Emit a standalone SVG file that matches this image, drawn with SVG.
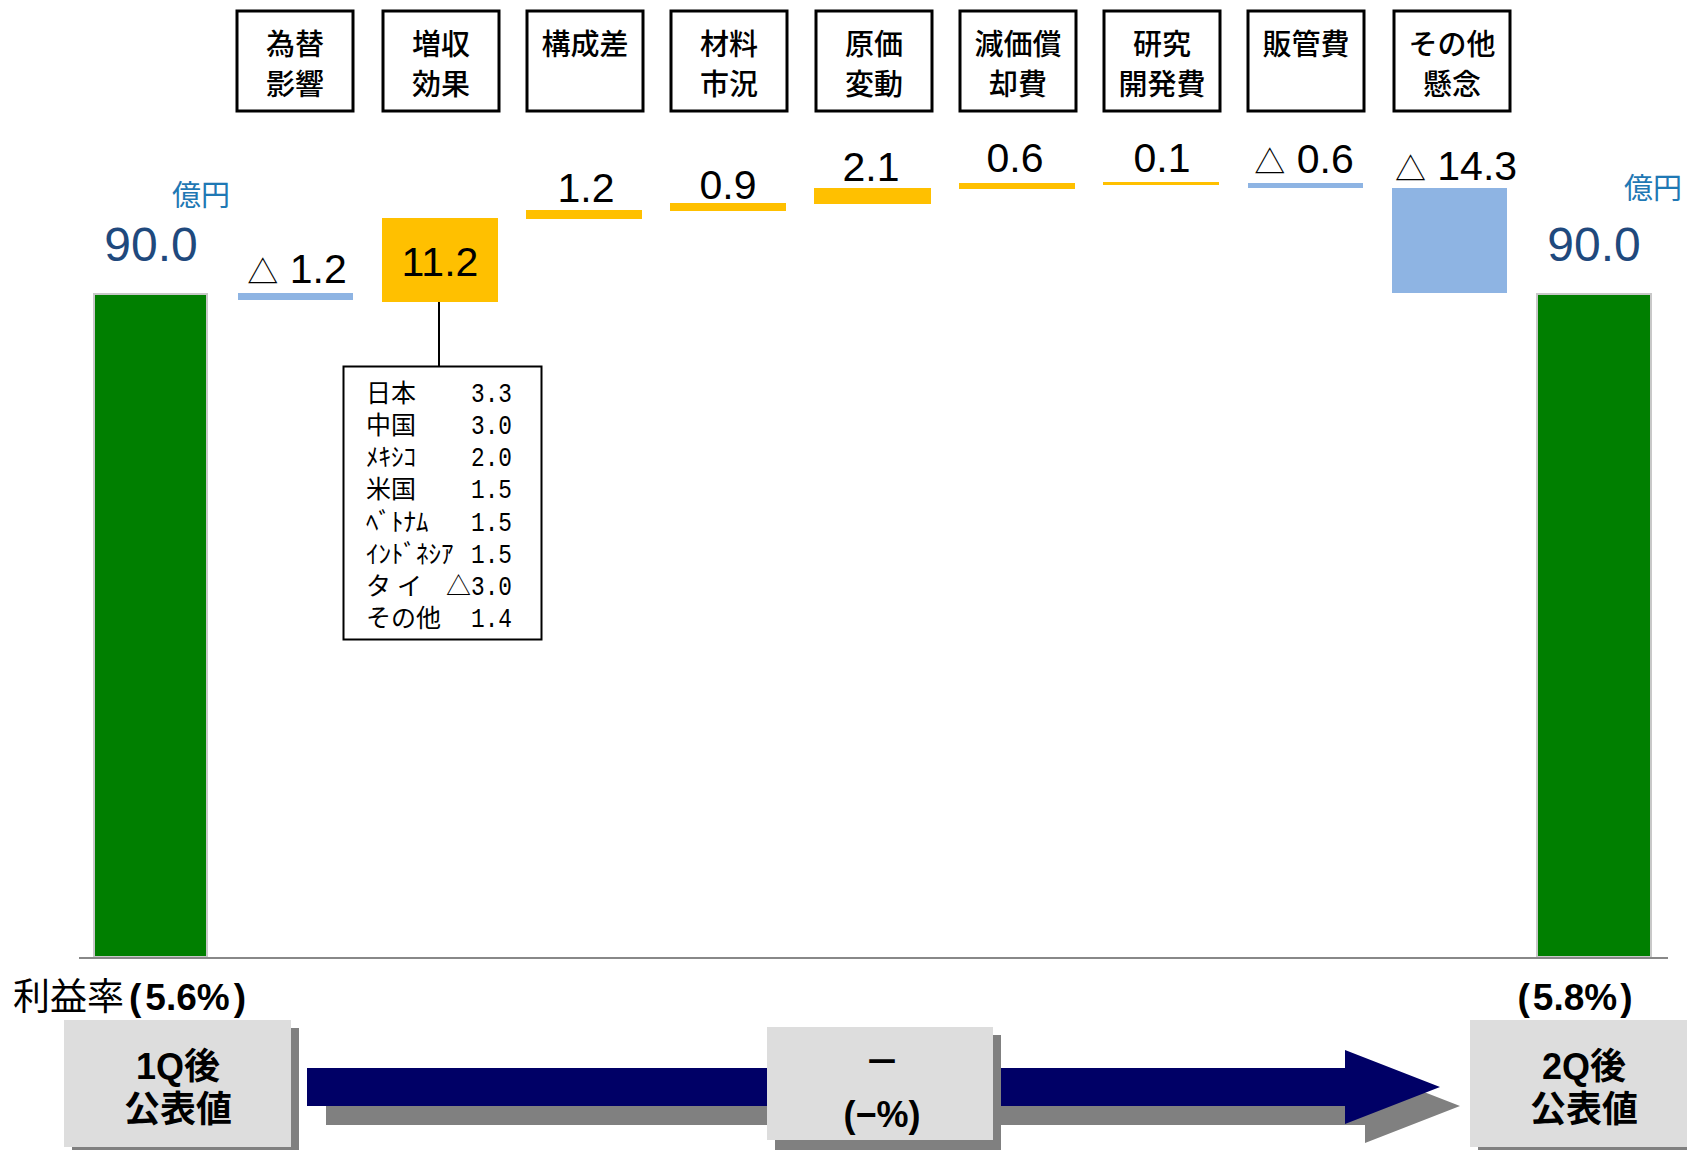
<svg xmlns="http://www.w3.org/2000/svg" width="1687" height="1150" viewBox="0 0 1687 1150">
<style>
.hbox{fill:#fff;stroke:#000;stroke-width:3}
.htxt{font-family:"Noto Sans CJK JP",sans-serif;font-size:29px;font-weight:500;text-anchor:middle;fill:#000}
.val{font-family:"Liberation Sans","Noto Sans CJK JP",sans-serif;font-size:41px;text-anchor:middle;fill:#000}
.tri{font-family:"Noto Sans CJK JP",sans-serif;font-size:31px}
.big{font-family:"Liberation Sans",sans-serif;font-size:48px;text-anchor:middle;fill:#1F497D}
.unit{font-family:"Noto Sans CJK JP",sans-serif;font-size:29px;fill:#1F78B4;text-anchor:middle}
.org{fill:#FFC000}
.blu{fill:#8EB4E3}
.grn{fill:#007F00;stroke:#C8C8C8;stroke-width:2}
.tbl{font-family:"Noto Sans CJK JP",sans-serif;font-size:25px;fill:#000}
.num{font-family:"Liberation Mono","Noto Sans CJK JP",monospace;font-size:28px;fill:#000}
.bt{font-family:"Liberation Sans","Noto Sans CJK JP",sans-serif;font-weight:bold;font-size:36px;text-anchor:middle;fill:#000}
.pbox{fill:#DDDDDD}
.shd{fill:#808080}
</style>

<!-- header boxes -->
<g id="h1"><rect class="hbox" x="237" y="11" width="116" height="100"/><text class="htxt" x="295" y="55">為替</text><text class="htxt" x="295" y="95">影響</text></g>
<g id="h2"><rect class="hbox" x="383" y="11" width="116" height="100"/><text class="htxt" x="441" y="55">増収</text><text class="htxt" x="441" y="95">効果</text></g>
<g id="h3"><rect class="hbox" x="527" y="11" width="116" height="100"/><text class="htxt" x="585" y="55">構成差</text></g>
<g id="h4"><rect class="hbox" x="671" y="11" width="116" height="100"/><text class="htxt" x="729" y="55">材料</text><text class="htxt" x="729" y="95">市況</text></g>
<g id="h5"><rect class="hbox" x="816" y="11" width="116" height="100"/><text class="htxt" x="874" y="55">原価</text><text class="htxt" x="874" y="95">変動</text></g>
<g id="h6"><rect class="hbox" x="960" y="11" width="116" height="100"/><text class="htxt" x="1018" y="55">減価償</text><text class="htxt" x="1018" y="95">却費</text></g>
<g id="h7"><rect class="hbox" x="1104" y="11" width="116" height="100"/><text class="htxt" x="1162" y="55">研究</text><text class="htxt" x="1162" y="95">開発費</text></g>
<g id="h8"><rect class="hbox" x="1248" y="11" width="116" height="100"/><text class="htxt" x="1306" y="55">販管費</text></g>
<g id="h9"><rect class="hbox" x="1394" y="11" width="116" height="100"/><text class="htxt" x="1452" y="55">その他</text><text class="htxt" x="1452" y="95">懸念</text></g>

<!-- start bar -->
<g id="start">
<rect class="grn" x="94" y="294" width="113" height="663"/>
<text class="unit" x="201" y="206">億円</text>
<text class="big" x="151" y="261">90.0</text>
</g>

<!-- steps -->
<g id="s1"><rect class="blu" x="238" y="293" width="115" height="7"/><text class="val" x="297" y="283"><tspan class="tri">△</tspan> 1.2</text></g>
<g id="s2"><rect class="org" x="382" y="218" width="116" height="84"/><text class="val" x="440" y="276">11.2</text></g>
<g id="s3"><rect class="org" x="526" y="210" width="116" height="9"/><text class="val" x="586" y="202">1.2</text></g>
<g id="s4"><rect class="org" x="670" y="203" width="116" height="8"/><text class="val" x="728" y="199">0.9</text></g>
<g id="s5"><rect class="org" x="814" y="188" width="117" height="16"/><text class="val" x="871" y="181">2.1</text></g>
<g id="s6"><rect class="org" x="959" y="183" width="116" height="6"/><text class="val" x="1015" y="172">0.6</text></g>
<g id="s7"><rect class="org" x="1103" y="182" width="116" height="3"/><text class="val" x="1162" y="172">0.1</text></g>
<g id="s8"><rect class="blu" x="1248" y="183" width="115" height="5"/><text class="val" x="1304" y="173"><tspan class="tri">△</tspan> 0.6</text></g>
<g id="s9"><rect class="blu" x="1392" y="188" width="115" height="105"/><text class="val" x="1456" y="180"><tspan class="tri">△</tspan> 14.3</text></g>

<!-- end bar -->
<g id="end">
<rect class="grn" x="1537" y="294" width="114" height="663"/>
<text class="unit" x="1653" y="199">億円</text>
<text class="big" x="1594" y="261">90.0</text>
</g>

<!-- baseline -->
<g id="axis"><line x1="79" y1="958" x2="1668" y2="958" stroke="#888" stroke-width="2"/></g>

<!-- breakdown table -->
<g id="breakdown">
<rect x="343.5" y="366.5" width="198" height="273" fill="#fff" stroke="#000" stroke-width="2"/>
<text class="tbl" x="366" y="402">日本</text><text class="num" x="471" y="402" textLength="41" lengthAdjust="spacingAndGlyphs">3.3</text>
<text class="tbl" x="366" y="434">中国</text><text class="num" x="471" y="434" textLength="41" lengthAdjust="spacingAndGlyphs">3.0</text>
<text class="tbl" x="366" y="466">ﾒｷｼｺ</text><text class="num" x="471" y="466" textLength="41" lengthAdjust="spacingAndGlyphs">2.0</text>
<text class="tbl" x="366" y="498">米国</text><text class="num" x="471" y="498" textLength="41" lengthAdjust="spacingAndGlyphs">1.5</text>
<text class="tbl" x="366" y="531">ﾍﾞﾄﾅﾑ</text><text class="num" x="471" y="531" textLength="41" lengthAdjust="spacingAndGlyphs">1.5</text>
<text class="tbl" x="366" y="563">ｲﾝﾄﾞﾈｼｱ</text><text class="num" x="471" y="563" textLength="41" lengthAdjust="spacingAndGlyphs">1.5</text>
<text class="tbl" x="366" y="595" letter-spacing="6">タイ</text><text class="tbl" x="446" y="595">△</text><text class="num" x="471" y="595" textLength="41" lengthAdjust="spacingAndGlyphs">3.0</text>
<text class="tbl" x="366" y="627">その他</text><text class="num" x="471" y="627" textLength="41" lengthAdjust="spacingAndGlyphs">1.4</text>
</g>

<!-- margin labels -->
<g id="rate1"><text x="13" y="1010" font-family="Noto Sans CJK JP,sans-serif" font-size="37" fill="#000">利益率<tspan font-family="Liberation Sans,sans-serif" font-weight="bold" dx="5">(</tspan><tspan font-family="Liberation Sans,sans-serif" font-weight="bold" dx="4">5.6%</tspan><tspan font-family="Liberation Sans,sans-serif" font-weight="bold" dx="4">)</tspan></text></g>
<g id="rate2"><text x="1575" y="1010" font-family="Liberation Sans,sans-serif" font-weight="bold" font-size="37" text-anchor="middle" fill="#000">(<tspan dx="3">5.8%</tspan><tspan dx="3">)</tspan></text></g>

<!-- connectors -->
<g id="connectors">
<line x1="439" y1="302" x2="439" y2="366" stroke="#000" stroke-width="2"/>
<polygon class="shd" points="326,1087 1365,1087 1365,1069 1460,1106 1365,1143 1365,1125 326,1125"/>
<polygon fill="#000066" points="307,1068 1345,1068 1345,1050 1440,1087 1345,1124 1345,1106 307,1106"/>
</g>

<!-- bottom boxes -->
<g id="q1"><rect class="shd" x="72" y="1028" width="227" height="127"/><rect class="pbox" x="64" y="1020" width="227" height="127"/><text class="bt" x="178" y="1079">1Q後</text><text class="bt" x="178" y="1122">公表値</text></g>
<g id="mid"><rect class="shd" x="775" y="1035" width="226" height="120"/><rect class="pbox" x="767" y="1027" width="226" height="113"/><text class="bt" x="882" y="1075">－</text><text class="bt" x="882" y="1127">(−%)</text></g>
<g id="q2"><rect class="shd" x="1478" y="1028" width="227" height="127"/><rect class="pbox" x="1470" y="1020" width="227" height="127"/><text class="bt" x="1584" y="1079">2Q後</text><text class="bt" x="1584" y="1122">公表値</text></g>
</svg>
